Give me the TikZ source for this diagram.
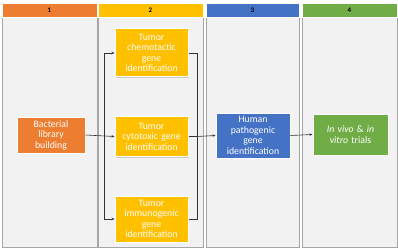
\documentclass[tikz,border=0pt]{standalone}
\usepackage{fontspec}
\setmainfont{Carlito}
\usepackage{tikz}
\usetikzlibrary{
	arrows.meta,
	positioning,
	shadows
}
\usepackage{xcolor}
\definecolor{orangeH}{HTML}{ED7D31}
\definecolor{yellowH}{HTML}{FFC000}
\definecolor{blueH}{HTML}{4472C4}
\definecolor{greenH}{HTML}{70AD47}
\definecolor{colbg}{HTML}{F2F2F2}
\definecolor{colframe}{HTML}{A6A6A6}

\tikzset{
	column/.style={draw=colframe,line width=0.8pt,fill=colbg,minimum height=244pt},
	header/.style={draw=white,line width=0.3pt,minimum height=14pt,inner sep=0pt,font=\fontsize{7}{8}\selectfont\bfseries},
	stepbox/.style={draw=white,line width=1pt,text=white,align=center,inner sep=1pt,
		font=\fontsize{9.8}{10.5}\selectfont,
		drop shadow={opacity=0.35,shadow xshift=1pt,shadow yshift=-1pt}},
	link/.style={->,>={Stealth[length=3pt,width=2.5pt]},draw=black!80,line width=0.6pt},
	bus/.style={draw=black!80,line width=0.6pt}
}

\begin{document}
\begin{tikzpicture}[x=1pt,y=-1pt]
			
			\useasboundingbox (0,0) rectangle (398,251);
			
			% columns
			\node[column,minimum width=95pt] (c1) at (49.5,125) {};
			\node[column,minimum width=105pt] (c2) at (150.5,125) {};
			\node[column,minimum width=93pt] (c3) at (252.5,125) {};
			\node[column,minimum width=95pt] (c4) at (349.5,125) {};
			
			\node[header,fill=orangeH,minimum width=95pt] (h1) at (49.5,10) {1};
			\node[header,fill=yellowH,minimum width=105pt] (h2) at (150.5,10) {2};
			\node[header,fill=blueH,minimum width=93pt] (h3) at (252.5,10) {3};
			\node[header,fill=greenH,minimum width=95pt] (h4) at (349.5,10) {4};
			
			% steps
			\node[stepbox,fill=orangeH,minimum width=68pt,minimum height=36pt,text width=62pt] (bact) at (51,135)
			{Bacterial\\library\\building};
			
			\node[stepbox,fill=yellowH,minimum width=73pt,minimum height=48pt,text width=68pt] (chemo) at (151.5,53)
			{Tumor\\chemotactic\\gene\\identification};
			
			\node[stepbox,fill=yellowH,minimum width=73pt,minimum height=40pt,text width=71pt] (cyto) at (151.5,136.5)
			{Tumor\\cytotoxic gene\\identification};
			
			\node[stepbox,fill=yellowH,minimum width=73pt,minimum height=46pt,text width=68pt] (immuno) at (151.5,219)
			{Tumor\\immunogenic\\gene\\identification};
			
			\node[stepbox,fill=blueH,minimum width=74pt,minimum height=45pt,text width=70pt] (human) at (253,135.5)
			{Human\\pathogenic\\gene\\identification};
			
			\node[stepbox,fill=greenH,minimum width=75pt,minimum height=41pt,text width=70pt] (vivo) at (350.5,134.5)
			{\textit{In vivo} \& \textit{in}\\\textit{vitro} trials};
			
			% connectors
			\coordinate (busL) at (104,136.5);
			\coordinate (busR) at (197,136.5);
			
			\draw[link] (bact.east) -- (cyto.west);
			\draw[link] (busL) |- (chemo.west);
			\draw[link] (busL) |- (immuno.west);
			\draw[bus] (chemo.east) -| (busR);
			\draw[bus] (immuno.east) -| (busR);
			\draw[bus] (cyto.east) -- (busR);
			\draw[link] (busR) -- (human.west);
			\draw[link] (human.east) -- (vivo.west);
			
		\end{tikzpicture}
\end{document}
